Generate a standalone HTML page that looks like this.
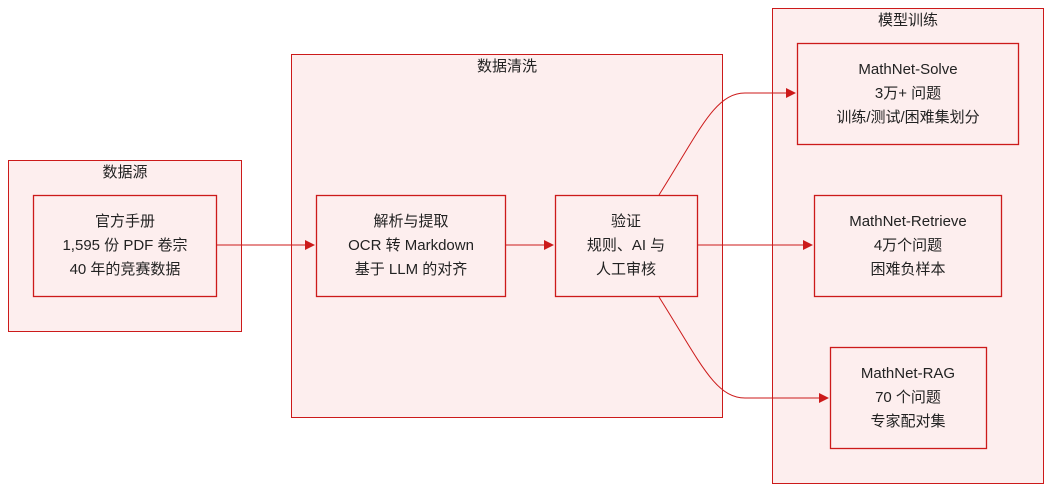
<!DOCTYPE html>
<html><head><meta charset="utf-8"><style>
html,body{margin:0;padding:0;background:#fff;}
svg{display:block;font-family:"Liberation Sans","Noto Sans CJK SC",sans-serif;}
text{font-size:15px;fill:#222;text-anchor:middle;}
.c{fill:#fdeeee;stroke:#cc1a1a;stroke-width:1;}
.n{fill:#fdeeee;stroke:#cc1a1a;stroke-width:1.3;}
.e{fill:none;stroke:#cc1a1a;stroke-width:1;}
</style></head><body>
<svg width="1051" height="492" viewBox="0 0 1051 492">
<defs><marker id="a" markerWidth="10" markerHeight="10" refX="9" refY="5" orient="auto" markerUnits="userSpaceOnUse"><path d="M0,0L10,5L0,10z" fill="#cc1a1a"/></marker></defs>
<rect class="c" x="8.5" y="160.5" width="233" height="171"/>
<rect class="c" x="291.5" y="54.5" width="431" height="363"/>
<rect class="c" x="772.5" y="8.5" width="271" height="475"/>
<text x="125" y="177">数据源</text>
<text x="507" y="71">数据清洗</text>
<text x="908" y="25">模型训练</text>
<rect class="n" x="33.5" y="195.5" width="183" height="101"/>
<rect class="n" x="316.5" y="195.5" width="189" height="101"/>
<rect class="n" x="555.5" y="195.5" width="142" height="101"/>
<rect class="n" x="797.5" y="43.5" width="221" height="101"/>
<rect class="n" x="814.5" y="195.5" width="187" height="101"/>
<rect class="n" x="830.5" y="347.5" width="156" height="101"/>
<path class="e" d="M216,245H314" marker-end="url(#a)"/>
<path class="e" d="M505,245H553" marker-end="url(#a)"/>
<path class="e" d="M697,245H812" marker-end="url(#a)"/>
<path class="e" d="M659,195C700,130 715,93 745,93H795" marker-end="url(#a)"/>
<path class="e" d="M659,297C700,362 715,398 745,398H828" marker-end="url(#a)"/>
<text x="125" y="226">官方手册</text><text x="125" y="250">1,595 份 PDF 卷宗</text><text x="125" y="274">40 年的竞赛数据</text>
<text x="411" y="226">解析与提取</text><text x="411" y="250">OCR 转 Markdown</text><text x="411" y="274">基于 LLM 的对齐</text>
<text x="626" y="226">验证</text><text x="626" y="250">规则、AI 与</text><text x="626" y="274">人工审核</text>
<text x="908" y="74">MathNet-Solve</text><text x="908" y="98">3万+ 问题</text><text x="908" y="122">训练/测试/困难集划分</text>
<text x="908" y="226">MathNet-Retrieve</text><text x="908" y="250">4万个问题</text><text x="908" y="274">困难负样本</text>
<text x="908" y="378">MathNet-RAG</text><text x="908" y="402">70 个问题</text><text x="908" y="426">专家配对集</text>
</svg>
</body></html>
